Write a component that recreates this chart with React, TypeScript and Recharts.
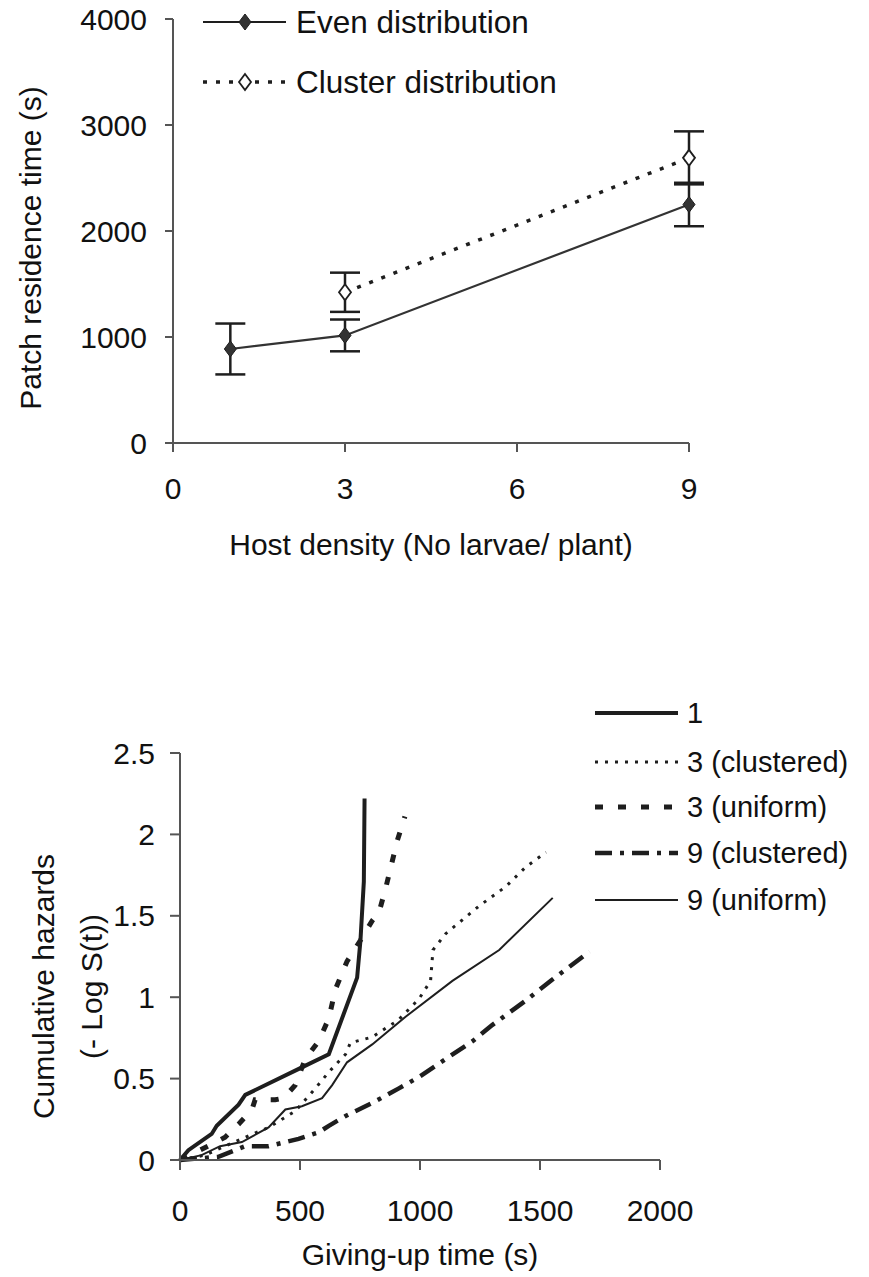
import React from 'react'
import { LineChart, Line, XAxis, YAxis, ErrorBar, Legend } from 'recharts'

const FONT = '"Liberation Sans", Arial, sans-serif'
const INK = '#1e1e1e'
const AXIS = '#555'

// top panel: patch residence time vs host density
const evenDensity = [1, 3, 9]
const evenTime = [887, 1015, 2250]
const evenErr = [240, 150, 205]
const clusterDensity = [3, 9]
const clusterTime = [1422, 2690]
const clusterErr = [185, 250]
const densityTicks = [0, 3, 6, 9]
const timeTicks = [0, 1000, 2000, 3000, 4000]
const topNames = ['Even distribution', 'Cluster distribution']

// bottom panel: cumulative hazards vs giving-up time
const t1 = [0, 35, 132, 153, 244, 272, 495, 620, 738, 752, 766, 769]
const h1 = [0, 0.06, 0.16, 0.21, 0.34, 0.4, 0.56, 0.65, 1.12, 1.35, 1.71, 2.22]
const t3c = [0, 104, 272, 369, 480, 564, 620, 690, 710, 801, 910, 996, 1044, 1054, 1107, 1246, 1358, 1441, 1525]
const h3c = [0, 0.03, 0.14, 0.2, 0.3, 0.44, 0.54, 0.65, 0.72, 0.755, 0.86, 0.99, 1.1, 1.29, 1.39, 1.56, 1.68, 1.8, 1.89]
const t3u = [0, 132, 188, 244, 300, 313, 397, 432, 480, 522, 578, 620, 648, 696, 752, 801, 829, 857, 882, 905, 937]
const h3u = [0, 0.096, 0.14, 0.22, 0.31, 0.37, 0.37, 0.38, 0.46, 0.62, 0.73, 0.87, 1.05, 1.22, 1.35, 1.47, 1.52, 1.67, 1.82, 1.96, 2.11]
const t9c = [0, 160, 272, 369, 494, 578, 620, 690, 801, 912, 996, 1107, 1219, 1302, 1441, 1553, 1706]
const h9c = [0, 0.02, 0.085, 0.085, 0.13, 0.17, 0.21, 0.27, 0.35, 0.44, 0.51, 0.62, 0.73, 0.83, 0.98, 1.11, 1.28]
const t9u = [0, 90, 167, 258, 369, 439, 508, 592, 634, 696, 801, 940, 1135, 1330, 1553]
const h9u = [0, 0.03, 0.085, 0.11, 0.2, 0.31, 0.33, 0.38, 0.46, 0.6, 0.71, 0.88, 1.1, 1.29, 1.61]
const gutTicks = [0, 500, 1000, 1500, 2000]
const hazTicks = [0, 0.5, 1, 1.5, 2, 2.5]

const zipRows = (xs: number[], ys: number[], es?: number[]) =>
  xs.map((x, i) => ({ x, y: ys[i], err: es ? es[i] : 0 }))

const evenRows = zipRows(evenDensity, evenTime, evenErr)
const clusterRows = zipRows(clusterDensity, clusterTime, clusterErr)

const hazardSeries = [
  { name: '1', rows: zipRows(t1, h1), width: 4, dash: undefined },
  { name: '3 (clustered)', rows: zipRows(t3c, h3c), width: 3, dash: '3 7' },
  { name: '3 (uniform)', rows: zipRows(t3u, h3u), width: 5, dash: '8 15' },
  { name: '9 (clustered)', rows: zipRows(t9c, h9c), width: 4.5, dash: '17 8 4 8' },
  { name: '9 (uniform)', rows: zipRows(t9u, h9u), width: 2, dash: undefined },
]

const diamond = (cx: number, cy: number, filled: boolean, key?: any) => (
  <polygon
    key={key}
    points={`${cx},${cy - 8} ${cx + 6},${cy} ${cx},${cy + 8} ${cx - 6},${cy}`}
    fill={filled ? '#333' : '#fff'}
    stroke={INK}
    strokeWidth={filled ? 1 : 1.8}
  />
)

const tickStyle = { fill: '#111', fontSize: 30, fontFamily: FONT }

function RotTitle(props: any) {
  const { viewBox, lines, cx, dy } = props
  const cy = viewBox.y + viewBox.height / 2 + dy
  return (
    <g>
      {lines.map((t: string, i: number) => (
        <text
          key={t}
          x={cx[i]}
          y={cy}
          transform={`rotate(-90 ${cx[i]} ${cy})`}
          textAnchor="middle"
          dominantBaseline="central"
          fontSize={30}
          fontFamily={FONT}
          fill="#111"
        >
          {t}
        </text>
      ))}
    </g>
  )
}

function TopKey(props: any) {
  const { payload } = props
  return (
    <svg width={869} height={110} style={{ display: 'block' }}>
      {(payload || []).map((p: any) => {
        const row = topNames.indexOf(p.value)
        const y = 22 + row * 60
        const cluster = row === 1
        return (
          <g key={p.value}>
            <line x1={203} x2={286} y1={y} y2={y} stroke={INK} strokeWidth={cluster ? 3.5 : 2.2}
              strokeDasharray={cluster ? '4 9' : undefined} />
            {diamond(245, y, !cluster)}
            <text x={296} y={y} dominantBaseline="central" fontSize={31.5} fontFamily={FONT} fill="#111">{p.value}</text>
          </g>
        )
      })}
    </svg>
  )
}

function BottomKey(props: any) {
  const { payload } = props
  const rowsY = [93, 142, 187, 233, 280]
  return (
    <svg width={869} height={310} style={{ display: 'block' }}>
      {(payload || []).map((p: any) => {
        const row = hazardSeries.findIndex((h) => h.name === p.value)
        if (row < 0) return null
        const s = hazardSeries[row]
        const y = rowsY[row]
        return (
          <g key={p.value}>
            <line x1={595} x2={678} y1={y} y2={y} stroke={INK} strokeWidth={s.width} strokeDasharray={s.dash} />
            <text x={687} y={y} dominantBaseline="central" fontSize={29} fontFamily={FONT} fill="#111">{p.value}</text>
          </g>
        )
      })}
    </svg>
  )
}

export default function App() {
  return (
    <div style={{ position: 'absolute', left: 0, top: 0, width: 869, height: 1277, background: '#fff', fontFamily: FONT }}>
      <div style={{ position: 'absolute', left: 0, top: 0 }}>
        <LineChart width={869} height={600} margin={{ top: 19, right: 180, bottom: 37, left: 0 }}>
          <XAxis type="number" dataKey="x" domain={[0, 9]} ticks={densityTicks} height={120}
            stroke={AXIS} strokeWidth={2} tickSize={9} tickMargin={26} tick={tickStyle} allowDuplicatedCategory={false}
            label={{ value: 'Host density (No larvae/ plant)', position: 'insideBottom', offset: 8, fill: '#111', fontSize: 30, fontFamily: FONT }} />
          <YAxis type="number" domain={[0, 4000]} ticks={timeTicks} width={173}
            stroke={AXIS} strokeWidth={2} tickSize={8} tickMargin={18} tick={tickStyle}
            label={(p: any) => <RotTitle {...p} lines={['Patch residence time (s)']} cx={[30]} dy={17} />} />
          <Legend layout="vertical" align="center" verticalAlign="middle" content={<TopKey />}
            wrapperStyle={{ position: 'absolute', left: 0, top: 0, width: 869, height: 110 }} />
          <Line data={evenRows} dataKey="y" name="Even distribution" stroke="#333" strokeWidth={2.2}
            isAnimationActive={false} activeDot={false}
            dot={(p: any) => diamond(p.cx, p.cy, true, `e${p.index}`)}>
            <ErrorBar dataKey="err" direction="y" width={15} stroke={INK} strokeWidth={2.5} />
          </Line>
          <Line data={clusterRows} dataKey="y" name="Cluster distribution" stroke={INK} strokeWidth={3.5}
            strokeDasharray="4 9" isAnimationActive={false} activeDot={false}
            dot={(p: any) => diamond(p.cx, p.cy, false, `c${p.index}`)}>
            <ErrorBar dataKey="err" direction="y" width={15} stroke={INK} strokeWidth={2.5} />
          </Line>
        </LineChart>
      </div>
      <div style={{ position: 'absolute', left: 0, top: 620 }}>
        <LineChart width={869} height={657} margin={{ top: 133, right: 209, bottom: 0, left: 0 }}>
          <XAxis type="number" dataKey="x" domain={[0, 2000]} ticks={gutTicks} height={117}
            stroke={AXIS} strokeWidth={2} tickSize={10} tickMargin={30} tick={tickStyle} allowDuplicatedCategory={false}
            label={{ value: 'Giving-up time (s)', position: 'insideBottom', offset: 12, fill: '#111', fontSize: 30, fontFamily: FONT }} />
          <YAxis type="number" domain={[0, 2.5]} ticks={hazTicks} width={180}
            stroke={AXIS} strokeWidth={2} tickSize={10} tickMargin={15} tick={tickStyle}
            label={(p: any) => <RotTitle {...p} lines={['Cumulative hazards', '(- Log S(t))']} cx={[43, 91]} dy={30} />} />
          <Legend layout="vertical" align="center" verticalAlign="middle" content={<BottomKey />}
            wrapperStyle={{ position: 'absolute', left: 0, top: 0, width: 869, height: 310 }} />
          {hazardSeries.map((s) => (
            <Line key={s.name} data={s.rows} dataKey="y" name={s.name} stroke={INK} strokeWidth={s.width}
              strokeDasharray={s.dash} dot={false} activeDot={false} isAnimationActive={false} />
          ))}
        </LineChart>
      </div>
    </div>
  )
}
